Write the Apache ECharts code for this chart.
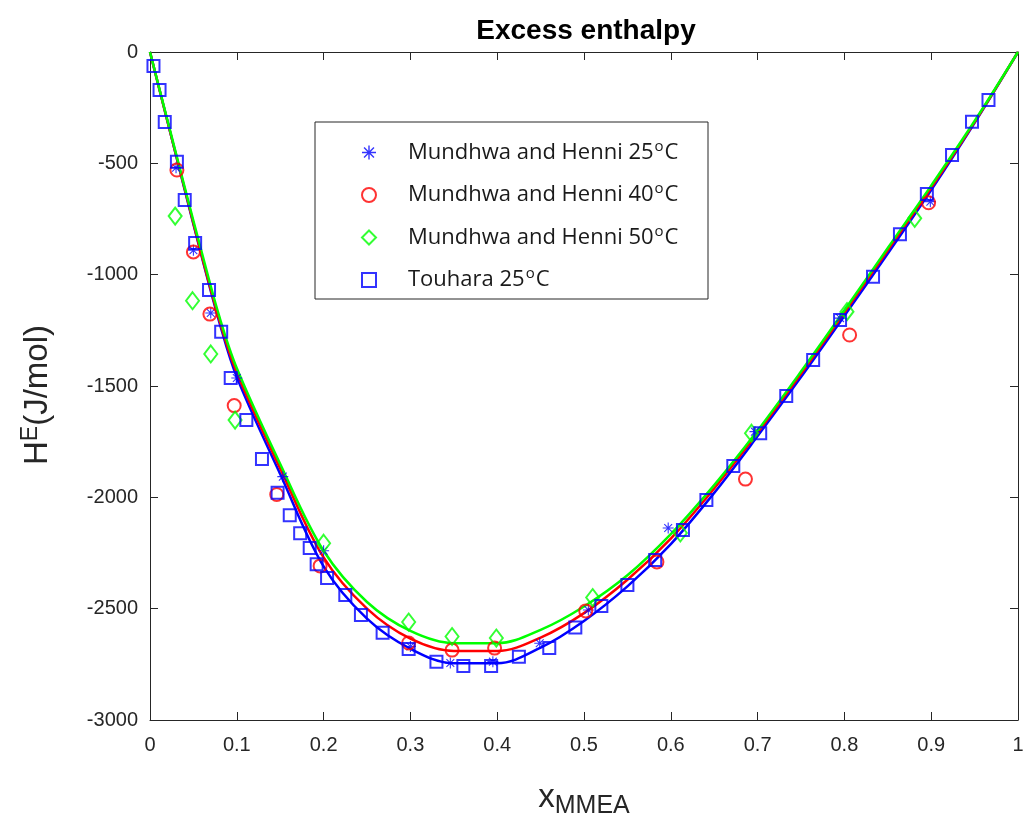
<!DOCTYPE html>
<html><head><meta charset="utf-8">
<script src="https://cdn.jsdelivr.net/npm/echarts@6/dist/echarts.min.js"></script>
<style>html,body{margin:0;padding:0;background:#fff}#c{width:1023px;height:816px}</style>
</head><body><div id="c"></div>
<script>
// ---- data ----
var xTicks = [0, 0.1, 0.2, 0.3, 0.4, 0.5, 0.6, 0.7, 0.8, 0.9, 1];
var yTicks = [0, -500, -1000, -1500, -2000, -2500, -3000];

var mh25 = [[0.03,-520],[0.05,-890],[0.07,-1172],[0.10,-1464],[0.153,-1907],[0.20,-2240],[0.30,-2670],[0.346,-2744],[0.395,-2738],[0.449,-2655],[0.505,-2506],[0.597,-2138],[0.697,-1705],[0.795,-1195],[0.899,-672]];
var mh40 = [[0.031,-530],[0.05,-898],[0.069,-1177],[0.097,-1588],[0.146,-1987],[0.196,-2308],[0.298,-2654],[0.348,-2686],[0.397,-2677],[0.502,-2510],[0.584,-2290],[0.686,-1918],[0.806,-1271],[0.897,-677]];
var mh50 = [[0.029,-737],[0.049,-1117],[0.070,-1356],[0.098,-1653],[0.200,-2206],[0.298,-2560],[0.348,-2625],[0.399,-2632],[0.51,-2450],[0.611,-2160],[0.693,-1712],[0.803,-1166],[0.881,-747]];
var touhara = [[0.004,-63],[0.011,-171],[0.017,-314],[0.031,-493],[0.040,-665],[0.052,-858],[0.068,-1069],[0.082,-1256],[0.093,-1464],[0.111,-1653],[0.129,-1828],[0.147,-1979],[0.161,-2080],[0.173,-2161],[0.184,-2227],[0.192,-2300],[0.204,-2362],[0.225,-2439],[0.243,-2528],[0.268,-2608],[0.298,-2681],[0.330,-2738],[0.361,-2757],[0.393,-2757],[0.425,-2716],[0.460,-2677],[0.490,-2585],[0.520,-2488],[0.550,-2394],[0.582,-2281],[0.614,-2147],[0.641,-2012],[0.672,-1859],[0.703,-1712],[0.733,-1545],[0.764,-1383],[0.795,-1204],[0.833,-1009],[0.864,-819],[0.895,-638],[0.924,-463],[0.947,-313],[0.966,-216]];

var curveX = [0,0.02,0.04,0.06,0.08,0.10,0.15,0.20,0.25,0.30,0.35,0.40,0.45,0.50,0.55,0.60,0.65,0.70,0.75,0.80,0.85,0.90,0.95,1.0];
var fit25 = [0,-310,-620,-925,-1215,-1460,-1895,-2310,-2545,-2680,-2745,-2745,-2675,-2555,-2400,-2210,-1980,-1725,-1460,-1185,-905,-620,-318,0];
var fit40 = [0,-310,-615,-920,-1205,-1440,-1870,-2270,-2500,-2635,-2690,-2690,-2630,-2520,-2370,-2185,-1960,-1710,-1445,-1170,-890,-610,-315,0];
var fit50 = [0,-305,-608,-905,-1190,-1420,-1850,-2240,-2470,-2600,-2655,-2655,-2595,-2490,-2350,-2165,-1945,-1700,-1435,-1160,-880,-600,-310,0];

var names = ['Mundhwa and Henni 25', 'Mundhwa and Henni 40', 'Mundhwa and Henni 50', 'Touhara 25'];

function zip(xs, ys){ return xs.map(function(x,i){ return [x, ys[i]]; }); }

var axisColor = '#262626';
var starPath = 'path://M-1,-10 L1,-10 L1,10 L-1,10 Z M-10,-1 L10,-1 L10,1 L-10,1 Z M-7.8,-6.4 L-6.4,-7.8 L7.8,6.4 L6.4,7.8 Z M6.4,-7.8 L7.8,-6.4 L-6.4,7.8 L-7.8,6.4 Z';

var chart = echarts.init(document.getElementById('c'));
var baseFont = 'Liberation Sans, Arial, sans-serif';
var legFont = 'Open Sans, Lato, sans-serif';

function xAxisDef(pos, labels){
  return {type:'value', position:pos, min:0, max:1, interval:0.1,
    axisLine:{show:true, onZero:false, lineStyle:{color:axisColor, width:1}},
    axisTick:{show:true, inside:true, length:8, lineStyle:{color:axisColor}},
    splitLine:{show:false},
    axisLabel:{show:labels, color:axisColor, fontSize:20, fontFamily:baseFont, margin:15,
      formatter:function(v){ return xTicks.indexOf(Math.round(v*10)/10) >= 0 ? String(Math.round(v*10)/10) : ''; }}
  };
}
function yAxisDef(pos, labels){
  return {type:'value', position:pos, min:-3000, max:0, interval:500,
    axisLine:{show:true, onZero:false, lineStyle:{color:axisColor, width:1}},
    axisTick:{show:true, inside:true, length:8, lineStyle:{color:axisColor}},
    splitLine:{show:false},
    axisLabel:{show:labels, color:axisColor, fontSize:20, fontFamily:baseFont, margin:12,
      formatter:function(v){ return yTicks.indexOf(v) >= 0 ? String(v) : ''; }}
  };
}

var xa = xAxisDef('bottom', true);
xa.name = '{a|x}{s|MMEA}';
xa.nameLocation = 'middle';
xa.nameGap = 56;
xa.nameTextStyle = {rich:{a:{fontSize:33, fontFamily:baseFont, color:axisColor}, s:{fontSize:25, fontFamily:baseFont, color:axisColor, verticalAlign:'bottom', padding:[18,0,0,0]}}};
var xb = xAxisDef('top', false);

var ya = yAxisDef('left', true);
ya.name = '{a|H}{s|E}{a|(J/mol)}';
ya.nameLocation = 'middle';
ya.nameGap = 93;
ya.nameRotate = 90;
ya.nameTextStyle = {padding:[0,18,0,0], rich:{a:{fontSize:33, fontFamily:baseFont, color:axisColor}, s:{fontSize:23, fontFamily:baseFont, color:axisColor, verticalAlign:'top', padding:[0,0,15,0]}}};
var yb = yAxisDef('right', false);

function scatter(name, data, symbol, size, color, filled){
  return {name:name, type:'scatter', data:data, symbol:symbol, symbolSize:size,
    xAxisIndex:0, yAxisIndex:0, z:3,
    itemStyle: filled ? {color:color, borderWidth:0} : {color:'rgba(0,0,0,0)', borderColor:color, borderWidth:2},
    emphasis:{disabled:true}};
}
function line(data, color){
  return {type:'line', data:data, showSymbol:false, symbol:'none', smooth:0.35,
    lineStyle:{color:color, width:2.5}, xAxisIndex:0, yAxisIndex:0, z:2, silent:true};
}

chart.setOption({
  animation:false,
  backgroundColor:'#ffffff',
  title:{text:'Excess enthalpy', left:581, textAlign:'center', top:12,
    textStyle:{fontFamily:baseFont, fontWeight:'bold', fontSize:28, color:'#000'}},
  grid:{left:150, right:5, top:52, bottom:96, containLabel:false, outerBoundsMode:'none'},
  xAxis:[xa, xb],
  yAxis:[ya, yb],
  graphic:[{type:'rect', shape:{x:315, y:122, width:393, height:177}, style:{fill:'#fff', stroke:axisColor, lineWidth:1}, z:10}],
  legend:{orient:'vertical', left:356, top:134, itemWidth:14, itemHeight:14, itemGap:18, z:20,
    data:names, selectedMode:false,
    formatter:function(n){ return '{t|' + n + '}{s|o}{t|C}'; },
    textStyle:{padding:[0,0,0,27], rich:{
      t:{fontFamily:legFont, fontSize:22, color:'#1a1a1a', lineHeight:26},
      s:{fontFamily:legFont, fontSize:15, color:'#1a1a1a', verticalAlign:'top', padding:[0,1,12,1]}}}},
  series:[
    line(zip(curveX, fit25), '#0000ff'),
    line(zip(curveX, fit40), '#ff0000'),
    line(zip(curveX, fit50), '#00ff00'),
    scatter(names[0], mh25, starPath, 11, '#0000ff', true),
    scatter(names[1], mh40, 'circle', 13, '#ff0000', false),
    scatter(names[2], mh50, 'diamond', [13,17], '#00ff00', false),
    scatter(names[3], touhara, 'rect', 12, '#0000ff', false)
  ]
});
</script></body></html>
